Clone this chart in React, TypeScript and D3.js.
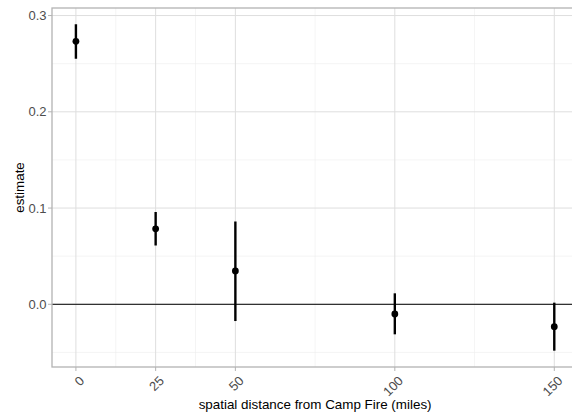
import React from "react";
import * as d3 from "d3";

const distances = [0, 25, 50, 100, 150];
const estimates = [0.2732, 0.0784, 0.0347, -0.0101, -0.0233];
const lowers = [0.2552, 0.061, -0.0174, -0.0312, -0.0482];
const uppers = [0.2909, 0.0958, 0.086, 0.0114, 0.0017];
const xTicks = [0, 25, 50, 100, 150];
const xMinor = [12.5, 37.5, 75, 125];
const yTicks = [0, 0.1, 0.2, 0.3];
const yMinor = [-0.05, 0.05, 0.15, 0.25];

const W = 572;
const H = 417;
const left = 52;
const right = 578.2;
const top = 8;
const bottom = 367;

export default function App() {
  const xMin = d3.min(distances)!;
  const xMax = d3.max(distances)!;
  const xPad = (xMax - xMin) * 0.05;
  const x = d3.scaleLinear().domain([xMin - xPad, xMax + xPad]).range([left, right]);
  const yLo = d3.min(lowers)!;
  const yHi = d3.max(uppers)!;
  const yPad = (yHi - yLo) * 0.05;
  const y = d3.scaleLinear().domain([yLo - yPad, yHi + yPad]).range([bottom, top]);
  const font = "'Liberation Sans', Arial, Helvetica, sans-serif";
  const fmt = d3.format(".1f");

  return (
    <div style={{ position: "absolute", left: 0, top: 0 }}>
      <svg width={W} height={H} style={{ display: "block", background: "#fff" }}>
        <defs>
          <clipPath id="panel">
            <rect x={left} y={top} width={right - left} height={bottom - top} />
          </clipPath>
        </defs>
        <rect x={0} y={0} width={W} height={H} fill="#fff" />
        <g clipPath="url(#panel)">
          {yMinor.map((v) => (
            <line key={"ym" + v} x1={left} x2={right} y1={y(v)} y2={y(v)} stroke="#EDEDED" strokeWidth={0.6} />
          ))}
          {xMinor.map((v) => (
            <line key={"xm" + v} x1={x(v)} x2={x(v)} y1={top} y2={bottom} stroke="#EDEDED" strokeWidth={0.6} />
          ))}
          {yTicks.map((v) => (
            <line key={"yg" + v} x1={left} x2={right} y1={y(v)} y2={y(v)} stroke="#DEDEDE" strokeWidth={1} />
          ))}
          {xTicks.map((v) => (
            <line key={"xg" + v} x1={x(v)} x2={x(v)} y1={top} y2={bottom} stroke="#DEDEDE" strokeWidth={1} />
          ))}
          <line x1={left} x2={right} y1={y(0)} y2={y(0)} stroke="#000" strokeWidth={1} />
          {distances.map((d, i) => (
            <g key={"pt" + d}>
              <line x1={x(d)} x2={x(d)} y1={y(lowers[i])} y2={y(uppers[i])} stroke="#000" strokeWidth={2.4} />
              <circle cx={x(d)} cy={y(estimates[i])} r={3.4} fill="#000" />
            </g>
          ))}
        </g>
        <rect x={left} y={top} width={right - left} height={bottom - top} fill="none" stroke="#B3B3B3" strokeWidth={1.3} />
        {yTicks.map((v) => (
          <g key={"yt" + v}>
            <line x1={left - 4} x2={left} y1={y(v)} y2={y(v)} stroke="#B3B3B3" strokeWidth={1} />
            <text x={left - 5.5} y={y(v)} dy="0.36em" textAnchor="end" fontFamily={font} fontSize={13} fill="#4D4D4D">
              {fmt(v)}
            </text>
          </g>
        ))}
        {xTicks.map((v) => (
          <g key={"xt" + v}>
            <line x1={x(v)} x2={x(v)} y1={bottom} y2={bottom + 4} stroke="#B3B3B3" strokeWidth={1} />
            <text
              transform={`translate(${x(v) + 2.5},${bottom + 8}) rotate(-45)`}
              dy="0.72em"
              textAnchor="end"
              fontFamily={font}
              fontSize={13}
              fill="#4D4D4D"
            >
              {v}
            </text>
          </g>
        ))}
        <text x={(left + right) / 2} y={409} textAnchor="middle" fontFamily={font} fontSize={13.4} fill="#000">
          spatial distance from Camp Fire (miles)
        </text>
        <text
          transform={`translate(24,${(top + bottom) / 2}) rotate(-90)`}
          textAnchor="middle"
          fontFamily={font}
          fontSize={13.4}
          fill="#000"
        >
          estimate
        </text>
      </svg>
    </div>
  );
}
